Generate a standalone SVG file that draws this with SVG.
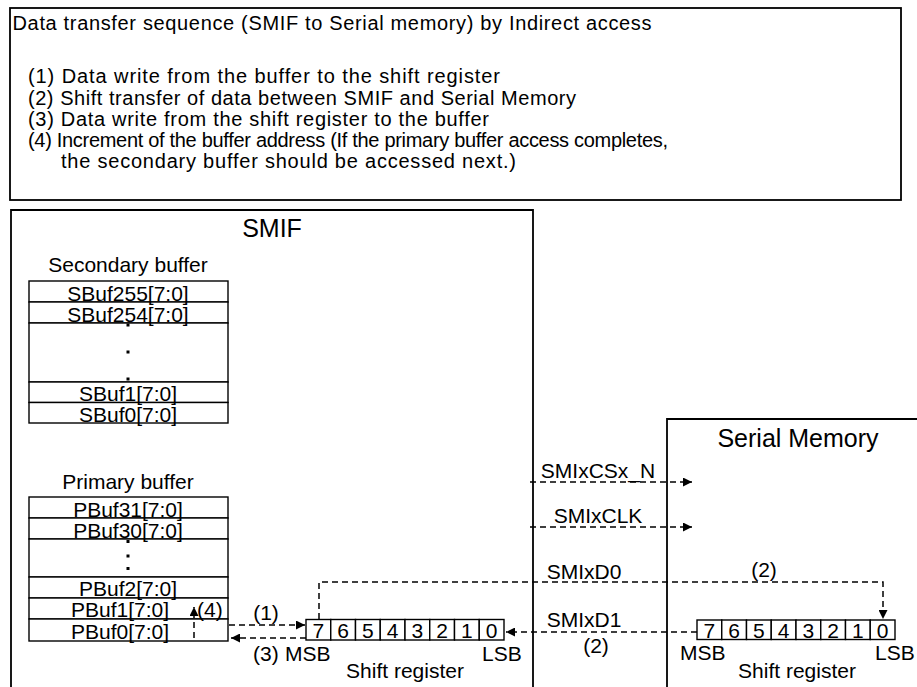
<svg xmlns="http://www.w3.org/2000/svg" width="917" height="687" viewBox="0 0 917 687">
  <style>
    text { font-family: "Liberation Sans", Arial, sans-serif; fill: #000; }
    .note { font-size: 20px; }
    .lbl { font-size: 21px; }
    .title { font-size: 25px; }
    .mid { text-anchor: middle; }
    .frame { fill: #fff; stroke: #000; stroke-width: 1.8; }
    .cell { fill: #fff; stroke: #000; stroke-width: 1.4; }
    .dash { fill: none; stroke: #000; stroke-width: 1.5; stroke-dasharray: 6 4; }
  </style>
  <defs>
    <marker id="arrow" markerUnits="userSpaceOnUse" markerWidth="9" markerHeight="9" refX="9" refY="4.5" orient="auto">
      <path d="M0,0 L9,4.5 L0,9 z" fill="#000"/>
    </marker>
  </defs>

  <rect width="917" height="687" fill="#fff"/>

  <!-- explanatory note -->
  <g id="sequence-note">
    <rect class="frame" x="10" y="8" width="891" height="192"/>
    <text class="note" x="12.5" y="30" textLength="639" lengthAdjust="spacing">Data transfer sequence (SMIF to Serial memory) by Indirect access</text>
    <text class="note" x="28" y="83" textLength="472" lengthAdjust="spacing">(1) Data write from the buffer to the shift register</text>
    <text class="note" x="28" y="104.5" textLength="548" lengthAdjust="spacing">(2) Shift transfer of data between SMIF and Serial Memory</text>
    <text class="note" x="28" y="126" textLength="461" lengthAdjust="spacing">(3) Data write from the shift register to the buffer</text>
    <text class="note" x="28" y="147" textLength="640" lengthAdjust="spacing">(4) Increment of the buffer address (If the primary buffer access completes,</text>
    <text class="note" x="61" y="168" textLength="455" lengthAdjust="spacing">the secondary buffer should be accessed next.)</text>
  </g>

  <!-- SMIF block -->
  <g id="smif">
    <path class="frame" d="M11,700 V210 H533 V700"/>
    <text class="title mid" x="272" y="237">SMIF</text>
  </g>

  <!-- Serial memory block -->
  <g id="serial-memory">
    <path class="frame" d="M667,700 V419 H930"/>
    <text class="title mid" x="798" y="447">Serial Memory</text>
  </g>

  <!-- secondary buffer -->
  <g id="secondary-buffer">
    <text class="lbl mid" x="128" y="272">Secondary buffer</text>
    <rect class="cell" x="29" y="281" width="199" height="21"/>
    <rect class="cell" x="29" y="302" width="199" height="21"/>
    <rect class="cell" x="29" y="323" width="199" height="59"/>
    <rect class="cell" x="29" y="382" width="199" height="20.5"/>
    <rect class="cell" x="29" y="402.5" width="199" height="20.5"/>
    <text class="lbl mid" x="128" y="300.5">SBuf255[7:0]</text>
    <text class="lbl mid" x="128" y="321.5">SBuf254[7:0]</text>
    <text class="lbl mid" x="128" y="400.5">SBuf1[7:0]</text>
    <text class="lbl mid" x="128" y="421.5">SBuf0[7:0]</text>
    <rect x="126.5" y="323.5" width="3" height="3"/>
    <rect x="126.5" y="350.5" width="3" height="3"/>
    <rect x="126.5" y="377.5" width="3" height="3"/>
  </g>

  <!-- primary buffer -->
  <g id="primary-buffer">
    <text class="lbl mid" x="128" y="489">Primary buffer</text>
    <rect class="cell" x="29" y="497" width="199" height="21"/>
    <rect class="cell" x="29" y="518" width="199" height="21"/>
    <rect class="cell" x="29" y="539" width="199" height="38"/>
    <rect class="cell" x="29" y="577" width="199" height="21"/>
    <rect class="cell" x="29" y="598" width="199" height="21"/>
    <rect class="cell" x="29" y="619" width="199" height="22"/>
    <text class="lbl mid" x="128" y="516.5">PBuf31[7:0]</text>
    <text class="lbl mid" x="128" y="537.5">PBuf30[7:0]</text>
    <text class="lbl mid" x="128" y="596">PBuf2[7:0]</text>
    <text class="lbl mid" x="120" y="617">PBuf1[7:0]</text>
    <text class="lbl mid" x="120" y="639">PBuf0[7:0]</text>
    <rect x="126.5" y="540" width="3" height="3"/>
    <rect x="126.5" y="554.5" width="3" height="3"/>
    <rect x="126.5" y="567" width="3" height="3"/>
  </g>

  <!-- SMIF shift register -->
  <g id="smif-shift-register">
    <rect class="cell" x="306" y="619.5" width="24.75" height="20.5"/>
    <rect class="cell" x="330.75" y="619.5" width="24.75" height="20.5"/>
    <rect class="cell" x="355.5" y="619.5" width="24.75" height="20.5"/>
    <rect class="cell" x="380.25" y="619.5" width="24.75" height="20.5"/>
    <rect class="cell" x="405" y="619.5" width="24.75" height="20.5"/>
    <rect class="cell" x="429.75" y="619.5" width="24.75" height="20.5"/>
    <rect class="cell" x="454.5" y="619.5" width="24.75" height="20.5"/>
    <rect class="cell" x="479.25" y="619.5" width="24.75" height="20.5"/>
    <text class="lbl mid" x="318.4" y="638">7</text>
    <text class="lbl mid" x="343.1" y="638">6</text>
    <text class="lbl mid" x="367.9" y="638">5</text>
    <text class="lbl mid" x="392.6" y="638">4</text>
    <text class="lbl mid" x="417.4" y="638">3</text>
    <text class="lbl mid" x="442.1" y="638">2</text>
    <text class="lbl mid" x="466.9" y="638">1</text>
    <text class="lbl mid" x="491.6" y="638">0</text>
    <text class="lbl" x="285" y="661">MSB</text>
    <text class="lbl" x="482" y="661">LSB</text>
    <text class="lbl mid" x="405" y="678">Shift register</text>
  </g>

  <!-- serial memory shift register -->
  <g id="memory-shift-register">
    <rect class="cell" x="697" y="620" width="24.75" height="19.5"/>
    <rect class="cell" x="721.75" y="620" width="24.75" height="19.5"/>
    <rect class="cell" x="746.5" y="620" width="24.75" height="19.5"/>
    <rect class="cell" x="771.25" y="620" width="24.75" height="19.5"/>
    <rect class="cell" x="796" y="620" width="24.75" height="19.5"/>
    <rect class="cell" x="820.75" y="620" width="24.75" height="19.5"/>
    <rect class="cell" x="845.5" y="620" width="24.75" height="19.5"/>
    <rect class="cell" x="870.25" y="620" width="24.75" height="19.5"/>
    <text class="lbl mid" x="709.4" y="638">7</text>
    <text class="lbl mid" x="734.1" y="638">6</text>
    <text class="lbl mid" x="758.9" y="638">5</text>
    <text class="lbl mid" x="783.6" y="638">4</text>
    <text class="lbl mid" x="808.4" y="638">3</text>
    <text class="lbl mid" x="833.1" y="638">2</text>
    <text class="lbl mid" x="857.9" y="638">1</text>
    <text class="lbl mid" x="882.6" y="638">0</text>
    <text class="lbl" x="680" y="660">MSB</text>
    <text class="lbl" x="875" y="660">LSB</text>
    <text class="lbl mid" x="797" y="678">Shift register</text>
  </g>

  <!-- connectors -->
  <g id="connectors">
    <path class="dash" d="M530,482 H692" marker-end="url(#arrow)"/>
    <path class="dash" d="M530,527 H692" marker-end="url(#arrow)"/>
    <path class="dash" d="M319,619 V582 H883 V619" marker-end="url(#arrow)"/>
    <path class="dash" d="M697,632 H506" marker-end="url(#arrow)"/>
    <path class="dash" d="M229,625 H305" marker-end="url(#arrow)"/>
    <path class="dash" d="M306,638 H231" marker-end="url(#arrow)"/>
    <path class="dash" d="M194,638 V607" marker-end="url(#arrow)"/>
  </g>

  <!-- connector labels -->
  <g id="connector-labels">
    <text class="lbl mid" x="598" y="478">SMIxCSx_N</text>
    <text class="lbl mid" x="598" y="523">SMIxCLK</text>
    <text class="lbl mid" x="584" y="579">SMIxD0</text>
    <text class="lbl mid" x="584" y="627">SMIxD1</text>
    <text class="lbl mid" x="596" y="653">(2)</text>
    <text class="lbl mid" x="764" y="577">(2)</text>
    <text class="lbl mid" x="266" y="620">(1)</text>
    <text class="lbl" x="253" y="661">(3)</text>
    <text class="lbl" x="197" y="617">(4)</text>
  </g>
</svg>
